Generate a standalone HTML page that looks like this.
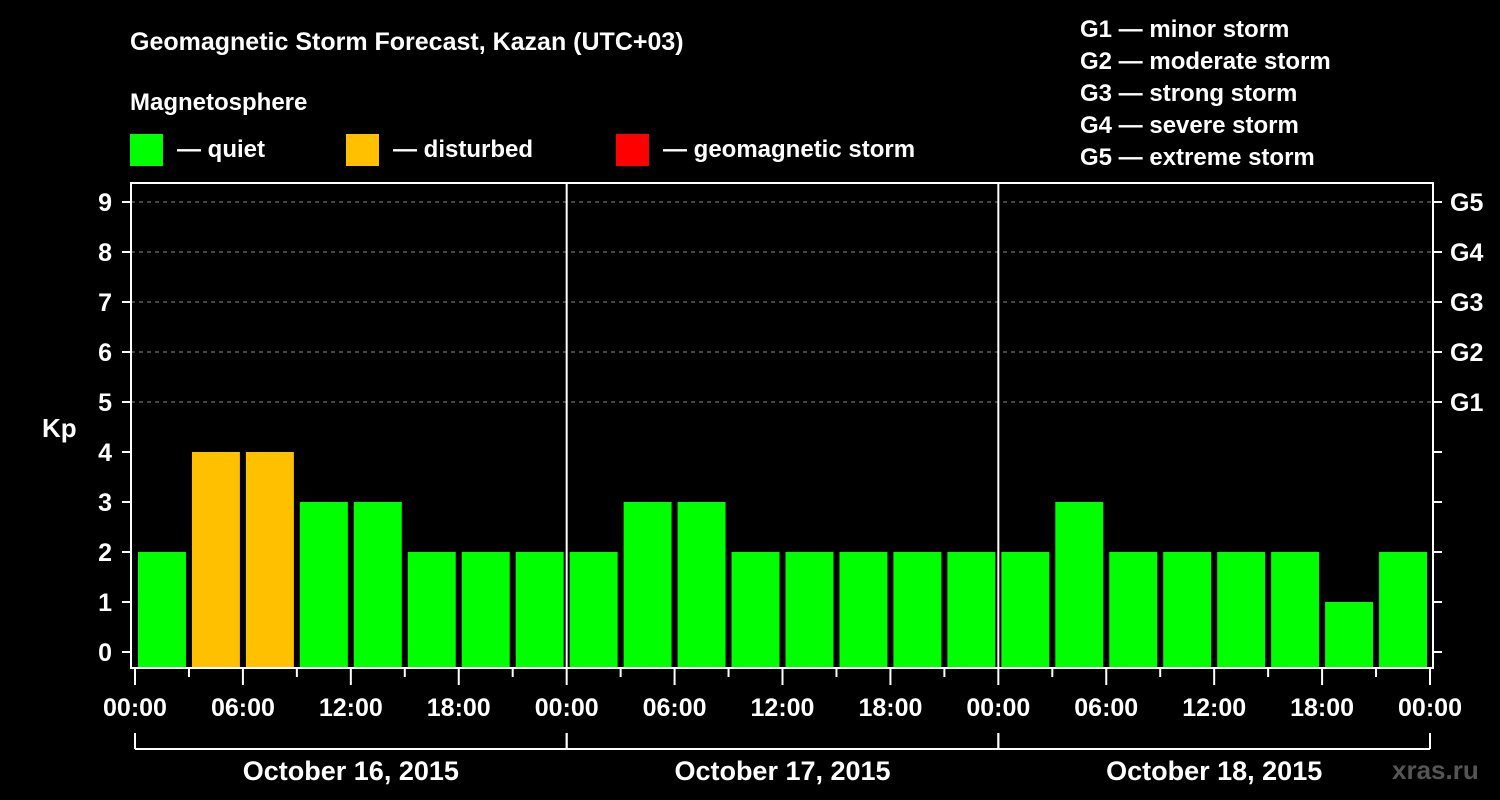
<!DOCTYPE html>
<html><head><meta charset="utf-8"><style>
body{margin:0;background:#000;}
svg{display:block;font-family:"Liberation Sans",sans-serif;font-weight:bold;}
</style></head><body>
<svg id="c" width="1500" height="800" viewBox="0 0 1500 800">
<rect width="1500" height="800" fill="#000"/>
<text x="130" y="50" fill="#fff" font-size="25">Geomagnetic Storm Forecast, Kazan (UTC+03)</text>
<text x="130" y="110" fill="#fff" font-size="24">Magnetosphere</text>
<g><rect x="130" y="134" width="33" height="32" fill="#00ff00"/><text x="177" y="157" fill="#fff" font-size="24">— quiet</text></g>
<g><rect x="346" y="134" width="33" height="32" fill="#ffc000"/><text x="393" y="157" fill="#fff" font-size="24">— disturbed</text></g>
<g><rect x="616" y="134" width="33" height="32" fill="#ff0000"/><text x="663" y="157" fill="#fff" font-size="24">— geomagnetic storm</text></g>
<g fill="#fff" font-size="24">
<text x="1080" y="37">G1 — minor storm</text><text x="1080" y="69">G2 — moderate storm</text><text x="1080" y="101">G3 — strong storm</text><text x="1080" y="133">G4 — severe storm</text><text x="1080" y="165">G5 — extreme storm</text></g>
<text x="42" y="437" fill="#fff" font-size="26">Kp</text>
<text x="1392" y="779" fill="#555" font-size="26">xras.ru</text>
<g id="grid"></g><g id="bars"></g><g id="axes"></g>
</svg>
<script>
const days=["October 16, 2015","October 17, 2015","October 18, 2015"];
const kpValues=[2,4,4,3,3,2,2,2, 2,3,3,2,2,2,2,2, 2,3,2,2,2,2,1,2];
const yTicks=[0,1,2,3,4,5,6,7,8,9];
const gLabels=["G1","G2","G3","G4","G5"];
const xLabels=["00:00","06:00","12:00","18:00"];
const NS="http://www.w3.org/2000/svg";
const L=131,R=1433,T=183,B=668,X0=135,DW=431.67;
const y=v=>652-50*v, x=h=>X0+h*DW/24;
function mk(t,a,p){const e=document.createElementNS(NS,t);for(const k in a)e.setAttribute(k,a[k]);p.appendChild(e);return e;}
const grid=document.getElementById('grid'),bars=document.getElementById('bars'),axes=document.getElementById('axes');
yTicks.forEach(v=>{
 if(v>=5){const g=mk('line',{x1:L,x2:R,y1:y(v),y2:y(v),stroke:'#888','stroke-dasharray':'4,4'},grid);
 
 }
 const t=mk('text',{x:112,y:y(v)+9,fill:'#fff','font-size':25,'text-anchor':'end'},axes);t.textContent=v;
 
 
 mk('line',{x1:122,x2:L,y1:y(v),y2:y(v),stroke:'#fff','stroke-width':2},axes);
 mk('line',{x1:R,x2:1442,y1:y(v),y2:y(v),stroke:'#fff','stroke-width':2},axes);
});
gLabels.forEach((g,i)=>{const t=mk('text',{x:1450,y:y(5+i)+9,fill:'#fff','font-size':25},axes);t.textContent=g;
 
 });
kpValues.forEach((v,i)=>{
 const c=v>=5?'#ff0000':v>=4?'#ffc000':'#00ff00';
 const r=mk('rect',{x:x(i*3)+3,y:y(v),width:DW/8-6,height:B-y(v),fill:c},bars);
 
 
});
mk('rect',{x:L,y:T,width:R-L,height:B-T,fill:'none',stroke:'#fff','stroke-width':2},axes);
for(let d=1;d<days.length;d++)mk('line',{x1:x(d*24),x2:x(d*24),y1:T,y2:B,stroke:'#fff','stroke-width':2},axes);
for(let h=0;h<=72;h+=3){mk('line',{x1:x(h),x2:x(h),y1:B,y2:h%6?677:685,stroke:'#fff','stroke-width':2},axes);}
for(let h=0;h<=72;h+=6){const t=mk('text',{x:x(h),y:716,fill:'#fff','font-size':25,'text-anchor':'middle'},axes);t.textContent=xLabels[(h/6)%4];
 
 }
days.forEach((d,i)=>{
 mk('line',{x1:x(i*24),x2:x(i*24+24),y1:749,y2:749,stroke:'#fff','stroke-width':2},axes);
 mk('line',{x1:x(i*24),x2:x(i*24),y1:733,y2:749,stroke:'#fff','stroke-width':2},axes);
 mk('line',{x1:x(i*24+24),x2:x(i*24+24),y1:733,y2:749,stroke:'#fff','stroke-width':2},axes);
 const t=mk('text',{x:x(i*24+12),y:780,fill:'#fff','font-size':27,'text-anchor':'middle'},axes);t.textContent=d;
 
 
});
</script>
</body></html>
